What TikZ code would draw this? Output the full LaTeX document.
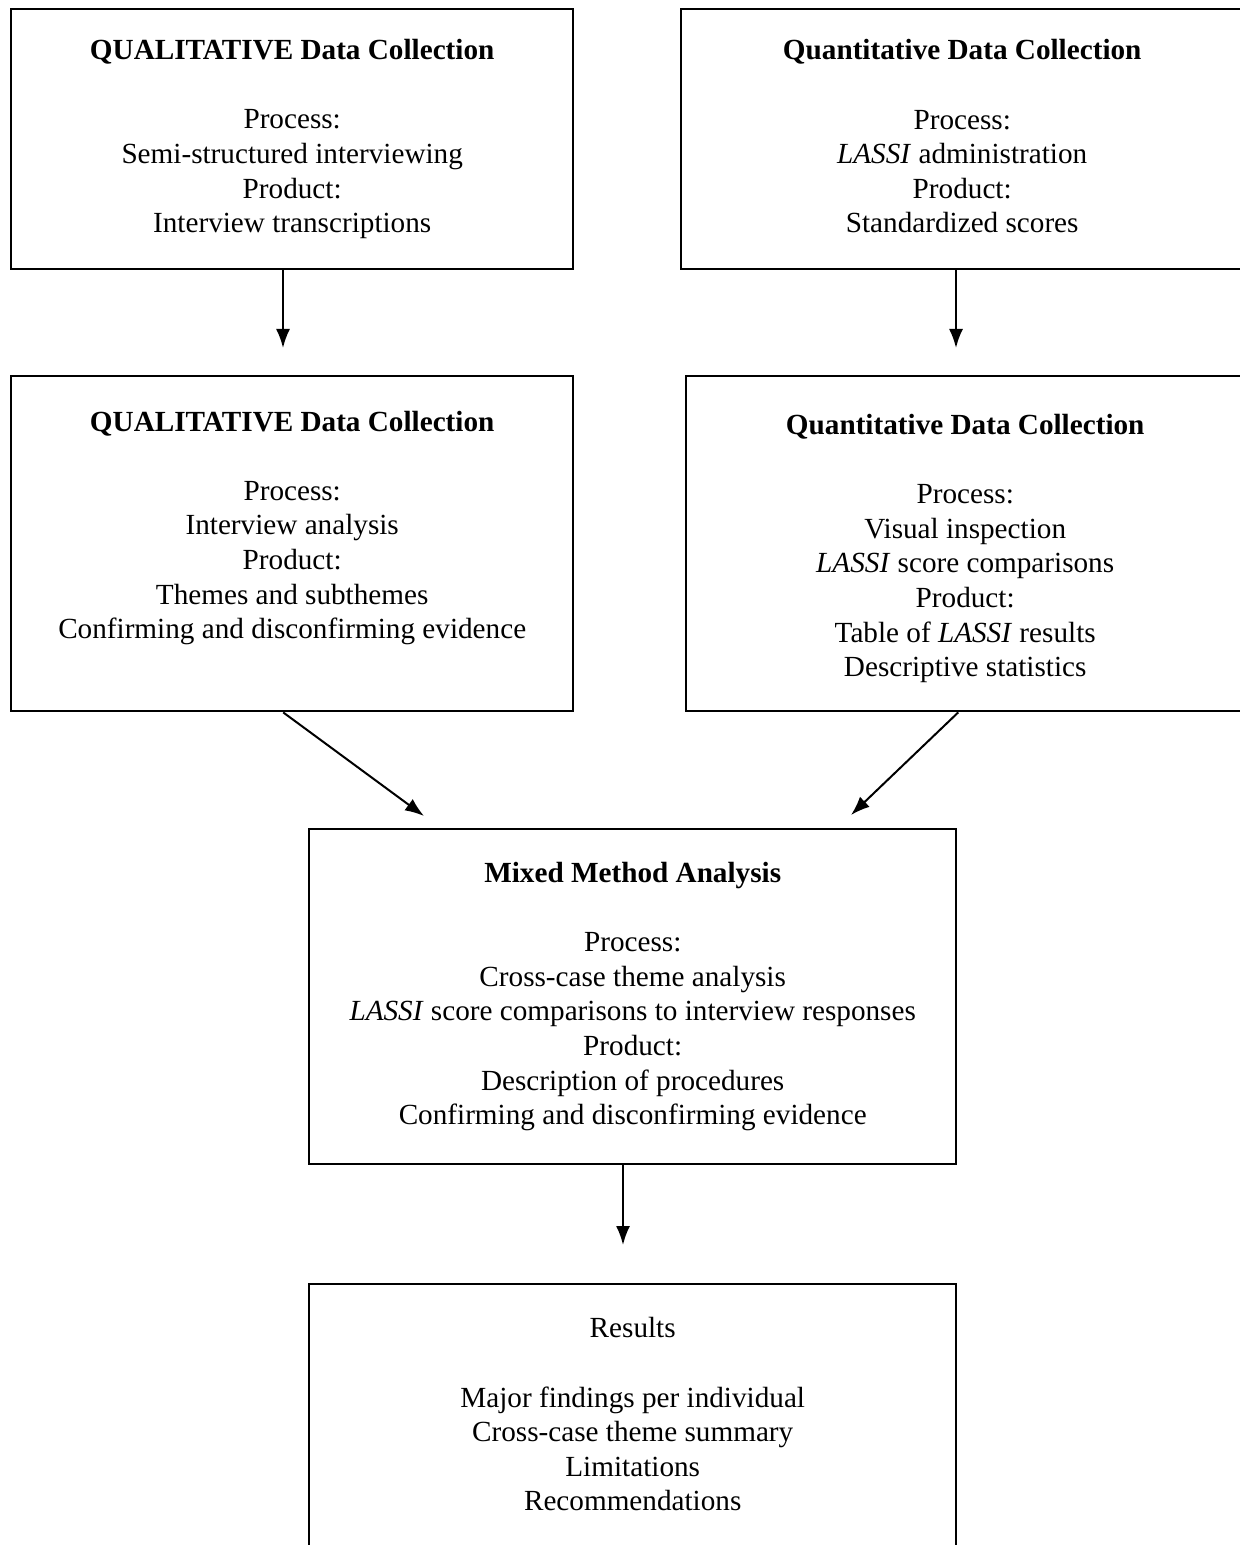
\documentclass[tikz,border=0pt]{standalone}
\usepackage{fontspec}
\setmainfont{Liberation Serif}
\usetikzlibrary{arrows.meta}
\newcommand{\ttl}[1]{{\bfseries #1}}
\newcommand{\dstrut}[1]{\rule[-#1]{0pt}{0pt}}
\tikzstyle{bx}=[rectangle,draw=black,line width=1.2pt,anchor=north west,
  align=center,inner sep=0pt,font=\fontsize{14.6}{17.3}\selectfont]
\tikzstyle{arr}=[line width=1pt,-{Latex[length=9.5pt,width=7pt]}]
\tikzstyle{none}=[]

\begin{document}
\begin{tikzpicture}[x=0.5pt,y=-0.5pt]
        \useasboundingbox (0,0) rectangle (1240,1545);
        \clip (0,0) rectangle (1240,1545);
        \node [style=bx,minimum width=281pt,minimum height=130pt] (0) at (10,8)
          {\ttl{QUALITATIVE Data Collection}\\[17.3pt]Process:\\Semi-structured interviewing\\Product:\\Interview transcriptions\dstrut{3pt}};
        \node [style=bx,minimum width=281pt,minimum height=130pt] (1) at (680,8)
          {\ttl{Quantitative Data Collection}\\[17.3pt]Process:\\\textit{LASSI} administration\\Product:\\Standardized scores\dstrut{3pt}};
        \node [style=bx,minimum width=281pt,minimum height=167.5pt] (2) at (10,375)
          {\ttl{QUALITATIVE Data Collection}\\[17.3pt]Process:\\Interview analysis\\Product:\\Themes and subthemes\\Confirming and disconfirming evidence\dstrut{19pt}};
        \node [style=bx,minimum width=279pt,minimum height=167.5pt] (3) at (685,375)
          {\rule{0pt}{15pt}\ttl{Quantitative Data Collection}\\[17.3pt]Process:\\Visual inspection\\\textit{LASSI} score comparisons\\Product:\\Table of \textit{LASSI} results\\Descriptive statistics\dstrut{3pt}};
        \node [style=bx,minimum width=323.5pt,minimum height=167.5pt] (4) at (308,828)
          {\ttl{Mixed Method Analysis}\\[17.3pt]Process:\\Cross-case theme analysis\\\textit{LASSI} score comparisons to interview responses\\Product:\\Description of procedures\\Confirming and disconfirming evidence\dstrut{3pt}};
        \node [style=bx,minimum width=323.5pt,minimum height=133pt] (5) at (308,1283)
          {Results\\[17.3pt]Major findings per individual\\Cross-case theme summary\\Limitations\\Recommendations\dstrut{3pt}};
        \coordinate (6) at (283,348);
        \coordinate (7) at (956,348);
        \coordinate (8) at (424,816);
        \coordinate (9) at (851,815);
        \coordinate (10) at (623,1245);
        \draw [style=arr] (0.south -| 6) to (6);
        \draw [style=arr] (1.south -| 7) to (7);
        \draw [style=arr] ([xshift=-4.5pt]2.south) to (8);
        \draw [style=arr] ([xshift=-3.5pt]3.south) to (9);
        \draw [style=arr] (4.south -| 10) to (10);
    \end{tikzpicture}
\end{document}
